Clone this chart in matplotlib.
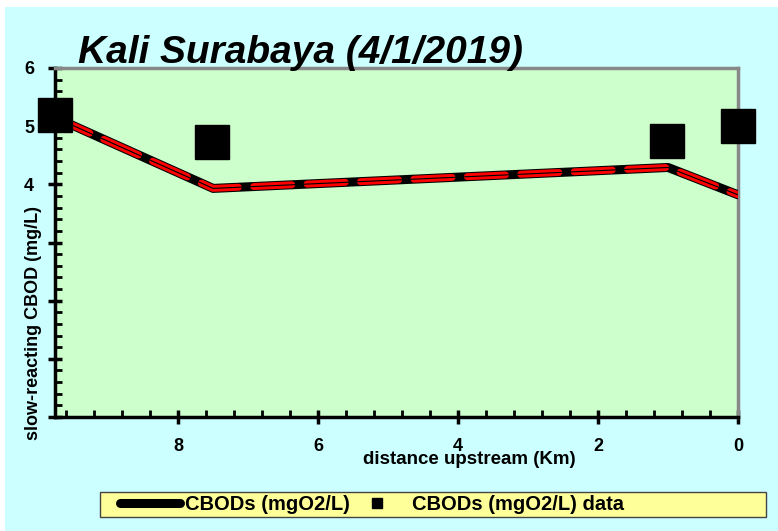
import numpy as np
import matplotlib.pyplot as plt
from matplotlib.patches import Rectangle
from matplotlib.ticker import FixedLocator, MultipleLocator

# datos
dist_model = [9.76, 7.5, 1.0, 0.0]
cbod_model = [5.15, 3.93, 4.29, 3.82]
dist_data = [9.76, 7.51, 1.01, 0.0]
cbod_data = [5.19, 4.72, 4.74, 5.0]

yticks = [0, 1, 2, 3, 4, 5, 6]
ytick_labels = ['', '', '', '', '4', '5', '6']
xticks = [8, 6, 4, 2, 0]

titulo = 'Kali Surabaya (4/1/2019)'

plt.rcParams['font.family'] = ['Liberation Sans', 'DejaVu Sans']

fig = plt.figure(figsize=(7.78, 5.31), dpi=100, facecolor='white')
fig.patches.append(Rectangle((5/778, 0), 1, 1 - 7/531, transform=fig.transFigure,
                             facecolor='#CCFFFF', edgecolor='none', zorder=-10))
# caja amarilla de la leyenda
fig.patches.append(Rectangle((100/778, 1 - 517/531), 666/778, 25/531,
                             transform=fig.transFigure, facecolor='#FFFF99',
                             edgecolor='#444444', lw=1, zorder=-5))

ax = fig.add_axes([55/778, 114/531, 683/778, 349/531])
ax.set_facecolor('#CCFFCC')

# linea del modelo: negra con guiones rojos
ax.plot(dist_model, cbod_model, color='black', lw=6.5, solid_capstyle='round',
        solid_joinstyle='round', label='CBODs (mgO2/L)', zorder=3)
ax.plot(dist_model, cbod_model, color='red', lw=5, dashes=(5.5, 2.2),
        dash_capstyle='round', zorder=4)
ax.plot(dist_model, cbod_model, color='black', lw=0.8, zorder=5)
ax.plot(dist_data, cbod_data, 's', color='black', ms=24, ls='none',
        label='CBODs (mgO2/L) data', clip_on=False, zorder=6)

ax.set_xlim(9.76, 0)
ax.set_ylim(0, 6)
ax.xaxis.set_major_locator(FixedLocator(xticks))
ax.xaxis.set_minor_locator(MultipleLocator(0.4))
ax.yaxis.set_major_locator(FixedLocator(yticks))
ax.yaxis.set_minor_locator(MultipleLocator(0.2))
ax.set_yticklabels(ytick_labels)

ax.tick_params(which='major', direction='inout', length=10, width=2.5,
               labelsize=13)
ax.tick_params(which='minor', direction='in', length=5, width=2)
for lab in ax.get_xticklabels() + ax.get_yticklabels():
    lab.set_fontweight('bold')
ax.tick_params(axis='x', pad=10)
ax.tick_params(axis='y', pad=10)

for s in ['left', 'bottom']:
    ax.spines[s].set_linewidth(2.5)
for s in ['top', 'right']:
    ax.spines[s].set_color('#888888')
    ax.spines[s].set_linewidth(2.5)

fig.text(469/778, 1 - 460/531, 'distance upstream (Km)', ha='center', va='center',
         fontsize=13.5, fontweight='bold')
fig.text(34/778, 1 - 323/531, 'slow-reacting CBOD (mg/L)', rotation=90,
         ha='center', va='center', fontsize=13, fontweight='bold')

fig.text(78/778, 1 - 53/531, titulo, fontsize=28, fontweight='bold',
         style='italic', ha='left', va='center')

leg = fig.legend(loc='center left', bbox_to_anchor=(120/778, 1 - 504.5/531),
                 ncol=2, fontsize=14.5, frameon=False, handlelength=3.0,
                 handletextpad=0.25, columnspacing=-0.2, markerscale=0.28,
                 borderpad=0, borderaxespad=0)
for t in leg.get_texts():
    t.set_fontweight('bold')

plt.savefig('out.png', dpi=100, facecolor=fig.get_facecolor())
